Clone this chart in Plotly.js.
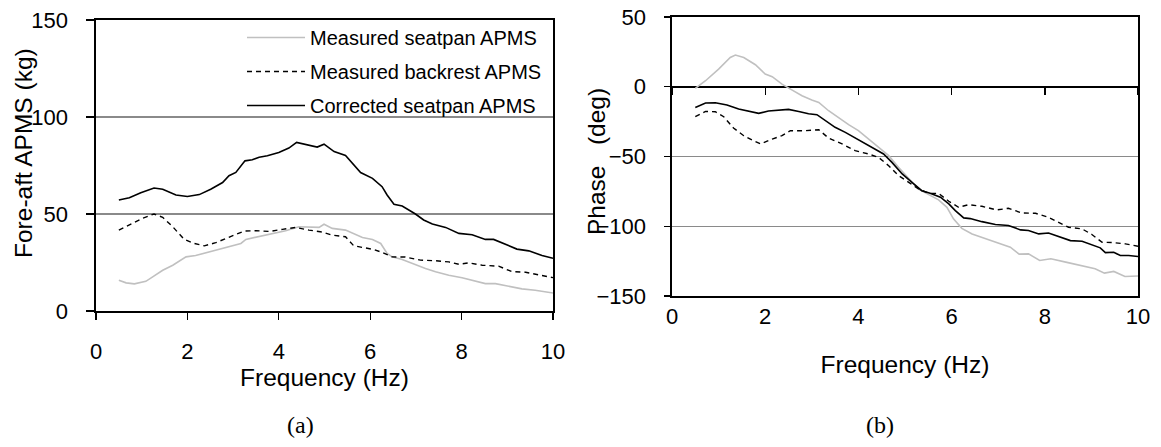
<!DOCTYPE html>
<html>
<head>
<meta charset="utf-8">
<script src="https://cdn.plot.ly/plotly-3.0.1.min.js"></script>
<style>html,body{margin:0;padding:0;background:#fff;}#chart{width:1161px;height:447px;}</style>
</head>
<body>
<div id="chart"></div>
<script>
// ---- (a) Fore-aft APMS (kg) ----
const aSeatFreq = [0.5,0.66,0.84,1.09,1.24,1.46,1.68,1.97,2.18,2.48,2.77,2.99,3.17,3.28,3.57,3.86,4.15,4.44,4.73,4.88,4.99,5.17,5.46,5.61,5.83,6.05,6.23,6.37,6.48,6.7,6.96,7.21,7.43,7.72,8.01,8.3,8.52,8.74,9.03,9.32,9.61,10.0];
const aSeatVal  = [15.9,14.5,14.0,15.3,17.6,21.0,23.6,27.9,28.6,30.5,32.2,33.8,34.8,36.9,38.3,40.0,41.4,43.4,43.4,43.1,44.7,42.6,41.7,40.0,37.9,36.9,34.8,29.7,27.9,26.6,24.1,21.9,20.2,18.4,17.1,15.5,14.1,14.1,12.8,11.4,10.7,9.3];

const aBackFreq = [0.5,0.8,1.02,1.27,1.46,1.68,1.93,2.15,2.37,2.62,2.91,3.24,3.5,3.79,4.08,4.37,4.66,4.95,5.17,5.46,5.64,5.83,6.08,6.26,6.48,6.77,7.1,7.43,7.72,7.94,8.16,8.45,8.81,9.1,9.4,9.69,10.0];
const aBackVal  = [41.7,45.2,47.8,50.0,48.3,43.4,36.9,34.8,33.6,35.2,37.9,41.2,41.4,41.0,42.1,43.1,41.7,40.7,39.1,38.3,33.6,32.9,31.7,30.2,27.9,27.8,26.2,25.9,25.3,24.1,24.8,23.6,23.1,20.3,20.0,18.6,17.2];

const aCorrFreq = [0.5,0.73,0.98,1.27,1.46,1.75,2.0,2.26,2.51,2.77,2.91,3.06,3.26,3.42,3.57,3.75,4.0,4.22,4.39,4.59,4.84,4.99,5.21,5.46,5.61,5.79,6.05,6.26,6.37,6.52,6.7,6.99,7.17,7.36,7.65,7.94,8.23,8.52,8.7,8.96,9.21,9.47,9.76,10.0];
const aCorrVal  = [57.2,58.4,61.0,63.4,62.8,59.8,59.0,60.0,62.8,66.2,69.7,71.4,77.4,78.0,79.3,80.0,81.7,84.0,86.9,86.0,84.5,86.0,82.2,80.2,76.2,71.4,68.4,64.1,59.8,55.0,54.1,50.0,46.9,44.8,43.1,40.0,39.3,36.9,36.9,34.5,31.9,31.0,28.6,27.2];

// ---- (b) Phase (deg) ----
const bSeatFreq = [0.5,0.72,1.0,1.25,1.36,1.54,1.79,2.0,2.15,2.36,2.58,2.79,3.0,3.15,3.36,3.58,3.79,4.0,4.22,4.43,4.65,4.86,5.08,5.29,5.51,5.72,5.9,6.04,6.22,6.44,6.78,7.26,7.45,7.65,7.89,8.13,8.45,8.77,9.08,9.28,9.48,9.72,10.0];
const bSeatVal  = [-1.2,4.3,12.6,21.0,22.7,21.0,15.8,9.1,7.2,1.9,-2.4,-6.4,-9.5,-11.2,-17.2,-22.4,-27.2,-31.5,-37.5,-43.4,-49.4,-57.8,-66.1,-73.3,-77.3,-81.1,-86.4,-94.7,-101.5,-105.5,-109.5,-115.0,-120.0,-119.8,-124.5,-123.3,-125.7,-128.0,-130.5,-133.6,-132.4,-136.0,-135.7];

const bBackFreq = [0.5,0.72,0.93,1.11,1.32,1.54,1.72,1.9,2.15,2.36,2.54,2.86,3.15,3.36,3.65,3.93,4.22,4.43,4.65,4.86,5.08,5.29,5.51,5.72,5.94,6.15,6.37,6.65,6.97,7.22,7.51,7.8,8.08,8.3,8.51,8.8,9.01,9.23,9.44,9.73,10.0];
const bBackVal  = [-21.5,-17.7,-17.9,-21.5,-29.6,-35.1,-38.2,-41.0,-37.5,-35.1,-31.5,-31.5,-30.8,-36.8,-41.0,-45.8,-48.2,-50.6,-56.6,-63.7,-68.5,-73.3,-76.4,-76.4,-82.1,-86.4,-84.5,-85.7,-88.3,-87.1,-90.5,-90.7,-93.6,-97.1,-100.7,-101.9,-105.9,-111.5,-111.7,-112.6,-114.3];

const bCorrFreq = [0.5,0.72,0.93,1.18,1.43,1.65,1.86,2.07,2.29,2.5,2.72,2.93,3.11,3.29,3.5,3.72,3.93,4.15,4.36,4.54,4.72,4.94,5.15,5.36,5.54,5.76,5.94,6.08,6.26,6.4,6.65,6.94,7.22,7.48,7.65,7.87,8.08,8.3,8.55,8.8,9.01,9.19,9.3,9.48,9.62,9.8,10.0];
const bCorrVal  = [-14.8,-11.7,-11.5,-13.1,-16.0,-17.7,-19.1,-17.4,-16.9,-16.2,-17.7,-19.3,-20.0,-24.3,-29.1,-32.7,-36.8,-41.0,-44.6,-48.2,-54.2,-62.5,-68.5,-74.5,-76.4,-79.2,-84.0,-88.8,-94.0,-94.5,-96.7,-98.8,-99.5,-102.6,-103.1,-105.5,-104.8,-107.4,-110.3,-110.7,-113.1,-115.5,-118.9,-118.6,-121.0,-121.0,-121.7];

const seriesNames = ['Measured seatpan APMS','Measured backrest APMS','Corrected seatpan APMS'];
const xTicks = [0,2,4,6,8,10];
const aYTicks = [0,50,100,150];
const bYTicks = [-150,-100,-50,0,50];
const aYTitle = 'Fore-aft APMS (kg)';
const bYTitle = 'Phase\u00a0\u00a0 (deg)';
const xTitle = 'Frequency (Hz)';

const GREY = '#c0c0c0', BLACK = '#000000', GRID = '#8a8a8a';
const lineSeat = {color: GREY, width: 1.6};
const lineBack = {color: BLACK, width: 1.4, dash: '5px,4px'};
const lineCorr = {color: BLACK, width: 1.6};

const traces = [
  {x: aSeatFreq, y: aSeatVal, xaxis:'x', yaxis:'y', mode:'lines', name: seriesNames[0], line: lineSeat, legendgroup:'g1'},
  {x: aBackFreq, y: aBackVal, xaxis:'x', yaxis:'y', mode:'lines', name: seriesNames[1], line: lineBack, legendgroup:'g2'},
  {x: aCorrFreq, y: aCorrVal, xaxis:'x', yaxis:'y', mode:'lines', name: seriesNames[2], line: lineCorr, legendgroup:'g3'},
  {x: bSeatFreq, y: bSeatVal, xaxis:'x2', yaxis:'y2', mode:'lines', name: seriesNames[0], line: lineSeat, showlegend:false},
  {x: bBackFreq, y: bBackVal, xaxis:'x2', yaxis:'y2', mode:'lines', name: seriesNames[1], line: lineBack, showlegend:false},
  {x: bCorrFreq, y: bCorrVal, xaxis:'x2', yaxis:'y2', mode:'lines', name: seriesNames[2], line: lineCorr, showlegend:false},
  // invisible trace to activate the mid-axis carrying ticks at phase 0
  {x: [xTicks[0]], y: [0], xaxis:'x3', yaxis:'y2', mode:'lines', showlegend:false, hoverinfo:'skip', line:{color:'rgba(0,0,0,0)'}}
];

const W = 1161, H = 447;
const px = v => v / W, py = v => 1 - v / H;
const aDom = {x:[px(96), px(553)], y:[py(311), py(20)]};
const bDom = {x:[px(672), px(1138)], y:[py(296), py(17)]};
const bYRange = [-150, 50];
const zeroPos = bDom.y[0] + (0 - bYRange[0]) / (bYRange[1] - bYRange[0]) * (bDom.y[1] - bDom.y[0]);

const tickFont = {family:'Liberation Sans, Arial, sans-serif', size:22, color:'#000'};
const titleFont = {family:'Liberation Sans, Arial, sans-serif', size:24.5, color:'#000'};

const layout = {
  width: W, height: H,
  margin: {l:0, r:0, t:0, b:0},
  paper_bgcolor:'#fff', plot_bgcolor:'#fff',
  showlegend: true,
  legend: {x: px(242), y: py(18), xanchor:'left', yanchor:'top', bgcolor:'rgba(255,255,255,0)',
           font:{family:'Liberation Sans, Arial, sans-serif', size:20, color:'#000'},
           itemwidth: 58, tracegroupgap: 5, traceorder:'grouped'},
  xaxis: {domain: aDom.x, anchor:'y', range:[0,10], tickvals: xTicks,
          showgrid:false, zeroline:false, showline:true, linecolor:'#000', linewidth:1.6, mirror:true,
          ticks:'outside', ticklen:7, tickcolor:'#000', tickwidth:1.4, tickfont: tickFont, ticklabelstandoff: 13,
          title:{text: xTitle, font: titleFont, standoff: 0}},
  yaxis: {domain: aDom.y, anchor:'x', range:[0,150], tickvals: aYTicks,
          showgrid:true, gridcolor: GRID, gridwidth:1.4, zeroline:false, showline:true, linecolor:'#000', linewidth:1.6, mirror:true,
          ticks:'outside', ticklen:8, tickcolor:'#000', tickwidth:1.4, tickfont: tickFont, ticklabelstandoff: 14},
  xaxis2: {domain: bDom.x, anchor:'y2', range:[0,10], tickvals: xTicks,
          showgrid:false, zeroline:false, showline:true, linecolor:'#000', linewidth:1.6, mirror:true,
          ticks:'', tickfont: tickFont, ticklabelstandoff: 0,
          title:{text: xTitle, font: titleFont, standoff: 28}},
  xaxis3: {overlaying:'x2', anchor:'free', position: zeroPos, side:'bottom', range:[0,10], tickvals: xTicks,
          showgrid:false, zeroline:false, showline:false, ticks:'outside', ticklen:7, tickcolor:'#000', tickwidth:1.4,
          showticklabels:false},
  yaxis2: {domain: bDom.y, anchor:'x2', range: bYRange, tickvals: bYTicks,
          showgrid:true, gridcolor: GRID, gridwidth:1.4, zeroline:true, zerolinecolor:'#000', zerolinewidth:1.6,
          showline:true, linecolor:'#000', linewidth:1.6, mirror:true,
          ticks:'outside', ticklen:6, tickcolor:'#000', tickwidth:1.4, tickfont: tickFont, ticklabelstandoff: 14},
  annotations: [
    {text: aYTitle, xref:'paper', yref:'paper', x: px(23), y: py(153), textangle:-90, showarrow:false,
     xanchor:'center', yanchor:'middle', font: titleFont},
    {text: bYTitle, xref:'paper', yref:'paper', x: px(597), y: py(162), textangle:-90, showarrow:false,
     xanchor:'center', yanchor:'middle', font: titleFont},
    {text:'(a)', xref:'paper', yref:'paper', x: px(300), y: py(425), showarrow:false, xanchor:'center', yanchor:'middle',
     font:{family:'Liberation Serif, Times New Roman, serif', size:24, color:'#000'}},
    {text:'(b)', xref:'paper', yref:'paper', x: px(880), y: py(425), showarrow:false, xanchor:'center', yanchor:'middle',
     font:{family:'Liberation Serif, Times New Roman, serif', size:24, color:'#000'}}
  ]
};

Plotly.newPlot('chart', traces, layout, {staticPlot:true, displayModeBar:false});
</script>
</body>
</html>
